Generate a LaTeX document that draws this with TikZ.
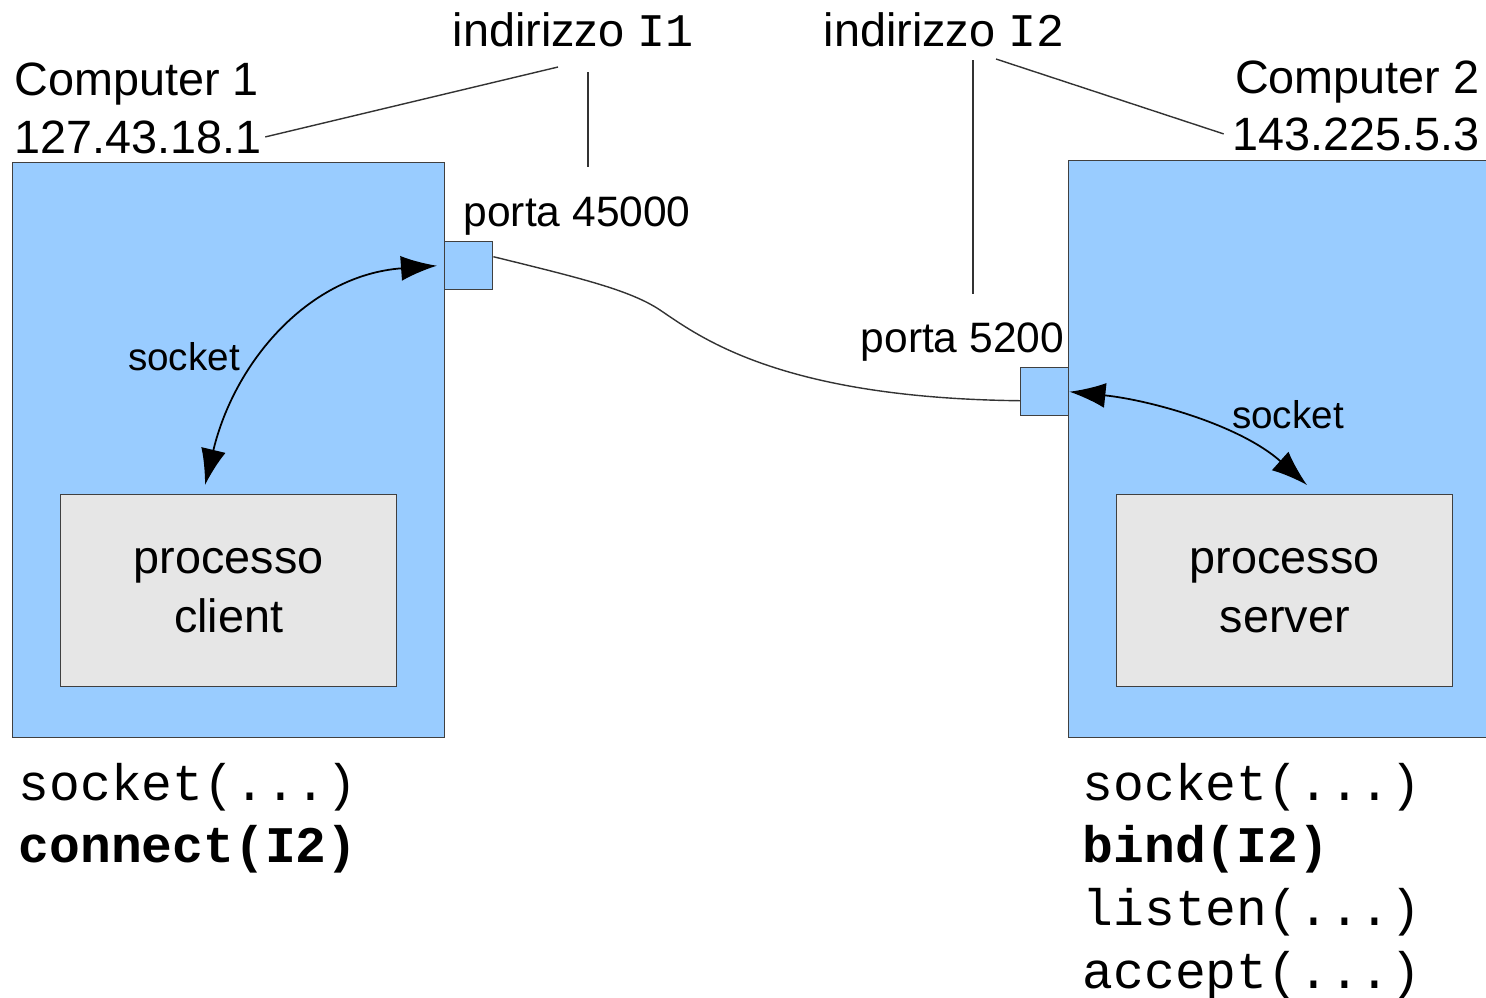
\documentclass[tikz,border=0pt]{standalone}
\usepackage{fontspec}
\setmainfont{Liberation Sans}
\setmonofont{Liberation Mono}
\usetikzlibrary{arrows.meta}
\definecolor{compblue}{RGB}{153,204,255}
\definecolor{procgray}{RGB}{230,230,230}
\tikzset{
  compbox/.style={draw=black!75, fill=compblue, line width=0.4pt, inner sep=0pt, anchor=north west},
  procbox/.style={draw=black!75, fill=procgray, line width=0.4pt, minimum width=33.6mm, minimum height=19.2mm,
    anchor=north west, align=center, font=\fontsize{13.3}{17}\selectfont},
  portbox/.style={compbox, minimum width=4.8mm, minimum height=4.8mm},
  lbl/.style={inner sep=0pt, font=\fontsize{13.3}{16}\selectfont},
  portlbl/.style={inner sep=0pt, font=\fontsize{12.1}{14}\selectfont},
  small/.style={inner sep=0pt, font=\fontsize{11}{13}\selectfont},
  code/.style={inner sep=0pt, anchor=base west, font=\fontsize{14.6}{17.8}\selectfont\ttfamily},
  leader/.style={draw=black!80, line width=0.4pt},
  sockarrow/.style={black, line width=0.5pt, {Latex[length=3.6mm,width=2.5mm]}-{Latex[length=3.6mm,width=2.5mm]}}
}
\begin{document}
\begin{tikzpicture}[x=0.1mm,y=-0.1mm]
\useasboundingbox (0,0) rectangle (1486,997);
% computers
\node[compbox, minimum width=43.2mm, minimum height=57.5mm] (comp1) at (12,162) {};
\node[compbox, minimum width=41.8mm, minimum height=57.7mm] (comp2) at (1068,160) {};
\node[procbox] (client) at (60,494) {processo\\client};
\node[procbox] (server) at (1116,494) {processo\\server};
% ports
\node[portbox] (port1) at (444,241) {};
\node[portbox] (port2) at (1020,367) {};
% labels
\node[lbl, anchor=base west] (c1name) at (14,95) {Computer 1};
\node[lbl, anchor=base west] (c1ip) at (14,153) {127.43.18.1};
\node[lbl, anchor=base east] (c2name) at (1480,93) {Computer 2};
\node[lbl, anchor=base east] (c2ip) at (1480,150) {143.225.5.3};
\node[lbl, anchor=base] (addr1) at (573,46) {indirizzo \texttt{I1}};
\node[lbl, anchor=base] (addr2) at (944,46) {indirizzo \texttt{I2}};
\node[portlbl, anchor=base west] (porta1) at (463,226) {porta 45000};
\node[portlbl, anchor=base west] (porta2) at (860,352) {porta 5200};
\node[small, anchor=base] (sock1) at (184,370) {socket};
\node[small, anchor=base] (sock2) at (1288,428) {socket};
% leader lines
\coordinate (i1a) at (558,67);
\coordinate (i1b) at (588,72);
\coordinate (i1c) at (588,167);
\coordinate (i2a) at (973,60);
\coordinate (i2b) at (973,294);
\coordinate (i2c) at (996,59);
\draw[leader] ([xshift=0.3mm]c1ip.east) -- (i1a);
\draw[leader] (i1b) -- (i1c);
\draw[leader] (i2a) -- (i2b);
\draw[leader] (i2c) -- ([xshift=-0.8mm]c2ip.west);
% connection
\coordinate (bend) at (660,310);
\draw[leader] ([yshift=0.9mm]port1.east) .. controls (580,278) and (630,290) .. (bend)
  .. controls (700,337) and (780,398) .. ([yshift=-0.9mm]port2.west);
% socket arrows
\coordinate (s1) at (205,485);
\coordinate (s2) at (1307,485);
\draw[sockarrow] (s1) .. controls (235,360) and (310,275) .. ([xshift=-0.7mm]port1.west);
\draw[sockarrow] (port2.east) .. controls (1150,400) and (1240,425) .. (s2);
% calls
\node[code] (cl1) at (18,800) {socket(...)};
\node[code] (cl2) at (18,862) {\bfseries connect(I2)};
\node[code] (sv1) at (1082,800) {socket(...)};
\node[code] (sv2) at (1082,862) {\bfseries bind(I2)};
\node[code] (sv3) at (1082,925) {listen(...)};
\node[code] (sv4) at (1082,988) {accept(...)};
\end{tikzpicture}
\end{document}
